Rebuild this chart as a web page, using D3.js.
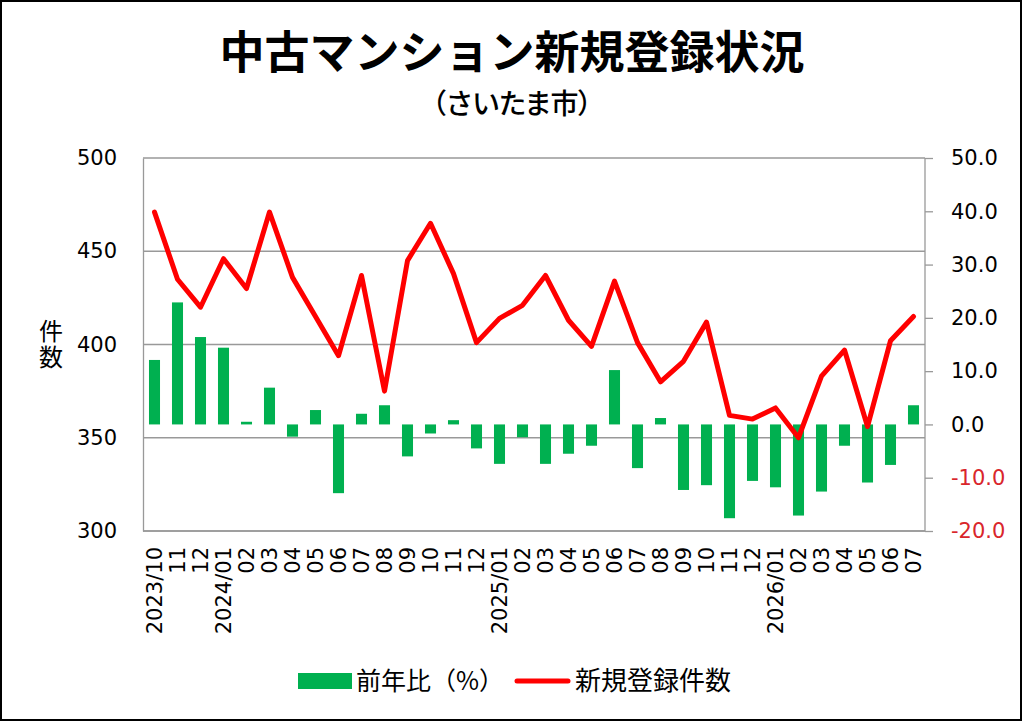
<!DOCTYPE html>
<html>
<head>
<meta charset="utf-8">
<script src="https://cdn.jsdelivr.net/npm/d3@7"></script>
<style>
html,body{margin:0;padding:0;background:#fff;}
svg{display:block;}
</style>
</head>
<body>
<svg id="chart" width="1024" height="723"></svg>
<script>
// ---- data ----
const months = ["2023/10","11","12","2024/01","02","03","04","05","06","07","08","09","10","11","12",
  "2025/01","02","03","04","05","06","07","08","09","10","11","12",
  "2026/01","02","03","04","05","06","07"];
const counts = [471,435,420,446,430,471,436,415,394,437,375,445,465,438,401,
  414,421,437,413,399,434,401,380,391,412,362,360,
  366,350,383,397,356,402,415];
const yoy = [12.1,22.9,16.4,14.4,0.5,6.9,-2.3,2.7,-12.9,2.0,3.6,-6.0,-1.7,0.8,-4.5,
  -7.4,-2.4,-7.4,-5.5,-4.0,10.2,-8.2,1.2,-12.3,-11.4,-17.6,-10.6,
  -11.8,-17.1,-12.6,-4.0,-10.9,-7.6,3.6];
const leftTicks = [300,350,400,450,500];
const rightTicks = [-20,-10,0,10,20,30,40,50];
const titleText = "中古マンション新規登録状況";
const subtitleText = "（さいたま市）";
const yTitle = "件数";
const legendBar = "前年比（%）";
const legendLine = "新規登録件数";

// ---- layout ----
const L = 143, R = 925, T = 158, B = 531;
const latin = "'DejaVu Sans', 'Noto Sans CJK JP', sans-serif";
const cjk = "'Noto Sans CJK JP', sans-serif";
const gridColor = "#999999";
const green = "#00B050", red = "#FF0000", negRed = "#D9262B";

const svg = d3.select("#chart");
const idx = months.map((d,i)=>i);
const x = d3.scaleBand().domain(idx).range([L,R]).paddingInner(0.52).paddingOuter(0.26);
const yL = d3.scaleLinear().domain([300,500]).range([B,T]);
const yR = d3.scaleLinear().domain([-20,50]).range([B,T]);

// outer border
svg.append("rect").attr("x",1).attr("y",1).attr("width",1020).attr("height",719)
  .attr("fill","#fff").attr("stroke","#000").attr("stroke-width",2);

// title
svg.append("text").attr("x",512).attr("y",69).attr("text-anchor","middle")
  .attr("font-family",cjk).attr("font-weight","bold").attr("font-size",45).attr("fill","#000")
  .text(titleText);
svg.append("text").attr("x",512).attr("y",114).attr("text-anchor","middle")
  .attr("font-family",cjk).attr("font-size",28).attr("font-weight",500).attr("fill","#000")
  .attr("textLength",186).attr("lengthAdjust","spacing")
  .text(subtitleText);

// gridlines (left axis)
svg.append("g").selectAll("line").data(leftTicks).join("line")
  .attr("x1",L).attr("x2",R)
  .attr("y1",d=>yL(d)).attr("y2",d=>yL(d))
  .attr("stroke",gridColor).attr("stroke-width",1.3);

// left axis
const gL = svg.append("g").attr("transform",`translate(${L},0)`)
  .call(d3.axisLeft(yL).tickValues(leftTicks).tickSize(0).tickPadding(26).tickFormat(d3.format("d")));
gL.select(".domain").attr("stroke",gridColor).attr("stroke-width",1.3);
gL.selectAll("text").attr("font-family",latin).attr("font-size",21).attr("fill","#000");

// right axis
const fmtR = d => d3.format(".1f")(d).replace("−","-");
const gR = svg.append("g").attr("transform",`translate(${R},0)`)
  .call(d3.axisRight(yR).tickValues(rightTicks).tickSize(8).tickPadding(18).tickFormat(fmtR));
gR.select(".domain").attr("stroke",gridColor).attr("stroke-width",1.3).attr("d",`M0,${T}V${B}`);
gR.selectAll("line").attr("stroke",gridColor).attr("stroke-width",1.3);
gR.selectAll("text").attr("font-family",latin).attr("font-size",21)
  .attr("fill",d=>d<0?negRed:"#000");

// bottom axis
const gB = svg.append("g").attr("transform",`translate(0,${B})`)
  .call(d3.axisBottom(x).tickSize(0).tickFormat(i=>months[i]));
gB.select(".domain").attr("stroke",gridColor).attr("stroke-width",1.3).attr("d",`M${L},0H${R}`);
gB.selectAll("text")
  .attr("font-family",latin).attr("font-size",21).attr("fill","#000")
  .attr("text-anchor","end")
  .attr("transform","rotate(-90)")
  .attr("x",-16).attr("y",0).attr("dy","0.36em");

// y title (vertical)
svg.append("text").attr("x",51).attr("y",319)
  .attr("font-family",cjk).attr("font-size",24).attr("fill","#000")
  .style("writing-mode","vertical-rl").style("letter-spacing","2px")
  .text(yTitle);

// bars
svg.append("g").selectAll("rect").data(yoy).join("rect")
  .attr("x",(d,i)=>x(i)).attr("width",x.bandwidth())
  .attr("y",d=>yR(Math.max(0,d))).attr("height",d=>Math.abs(yR(d)-yR(0)))
  .attr("fill",green);

// line
const line = d3.line().x((d,i)=>x(i)+x.bandwidth()/2).y(d=>yL(d));
svg.append("path").datum(counts).attr("d",line)
  .attr("fill","none").attr("stroke",red).attr("stroke-width",5)
  .attr("stroke-linejoin","round").attr("stroke-linecap","round");

// legend
const lg = svg.append("g");
lg.append("rect").attr("x",298).attr("y",673).attr("width",54).attr("height",16).attr("fill",green);
lg.append("text").attr("x",356).attr("y",690).attr("font-family",cjk).attr("font-size",25)
  .attr("fill","#000").text(legendBar);
lg.append("line").attr("x1",517).attr("x2",568).attr("y1",681).attr("y2",681)
  .attr("stroke",red).attr("stroke-width",5).attr("stroke-linecap","round");
lg.append("text").attr("x",575).attr("y",690).attr("font-family",cjk).attr("font-size",26)
  .attr("fill","#000").text(legendLine);
</script>
</body>
</html>
